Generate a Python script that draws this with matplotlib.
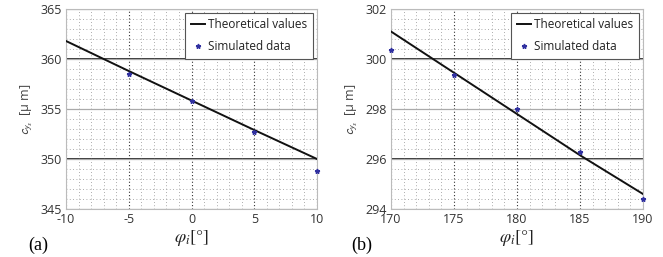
import matplotlib
matplotlib.use("Agg")
import matplotlib.pyplot as plt
from matplotlib.ticker import MultipleLocator

# Panel (a)
phi_a = [-10, -5, 0, 5, 10]
theory_a = [361.8, 358.8, 355.85, 352.9, 350.0]
sim_phi_a = [-5, 0, 5, 10]
sim_a = [358.5, 355.8, 352.7, 348.8]
xticks_a = [-10, -5, 0, 5, 10]
yticks_a = [345, 350, 355, 360, 365]
dark_a = [350, 360]

# Panel (b)
phi_b = [170, 175, 180, 185, 190]
theory_b = [301.1, 299.45, 297.8, 296.15, 294.6]
sim_phi_b = [170, 175, 180, 185, 190]
sim_b = [300.35, 299.35, 298.0, 296.3, 294.4]
xticks_b = [170, 175, 180, 185, 190]
yticks_b = [294, 296, 298, 300, 302]
dark_b = [296, 300]

plt.rcParams['font.family'] = ['Open Sans', 'DejaVu Sans']
plt.rcParams['mathtext.fontset'] = 'stix'
plt.rcParams['axes.unicode_minus'] = False

fig = plt.figure(figsize=(6.63, 2.57), dpi=100)
W, H = 663, 257
axa = fig.add_axes([66 / W, 1 - 209 / H, 251 / W, 200 / H])
axb = fig.add_axes([391 / W, 1 - 209 / H, 252 / W, 200 / H])

def style(ax, px, th, sx, sv, xt, yt, dark, xminor, yminor):
    ax.set_xlim(xt[0], xt[-1])
    ax.set_ylim(yt[0], yt[-1])
    ax.set_xticks(xt)
    ax.set_yticks(yt)
    ax.xaxis.set_minor_locator(MultipleLocator(xminor))
    ax.yaxis.set_minor_locator(MultipleLocator(yminor))
    ax.grid(which='minor', color='#777777', linestyle=(0, (1, 3)), linewidth=0.6, alpha=0.8)
    ax.grid(which='major', axis='x', color='#333333', linestyle=(0, (1, 2)), linewidth=0.8)
    ax.grid(which='major', axis='y', color='#aaaaaa', linestyle='-', linewidth=0.9)
    for d in dark:
        ax.axhline(d, color='#222222', linewidth=1.3, zorder=1.5)
    ax.tick_params(which='both', length=0, labelsize=9, colors='#333333', pad=3)
    for s in ax.spines.values():
        s.set_color('#bbbbbb')
        s.set_linewidth(0.8)
    ax.plot(px, th, color='#111111', linewidth=1.4, label='Theoretical values', zorder=3)
    ax.plot(sx, sv, linestyle='none', marker='*', markersize=3.5, color='#3030a0',
            label='Simulated data', zorder=4, clip_on=False)
    leg = ax.legend(loc='upper right', fontsize=8.5, frameon=True, fancybox=False,
                    borderaxespad=0.3, handlelength=1.2, handletextpad=0.3,
                    borderpad=0.5, labelspacing=0.7, labelcolor='#222222')
    leg.get_frame().set_edgecolor('#555555')
    leg.get_frame().set_linewidth(0.8)
    leg.get_frame().set_alpha(1)
    ax.set_xlabel(r'$\varphi_i$[°]', fontsize=13, family='STIXGeneral', labelpad=1, color='#222222')
    ax.set_ylabel(r'$\mathsf{c}_{\mathsf{y}_\mathsf{s}}$  [μ m]', fontsize=9, color='#444444', labelpad=4)

style(axa, phi_a, theory_a, sim_phi_a, sim_a, xticks_a, yticks_a, dark_a, 1, 1)
style(axb, phi_b, theory_b, sim_phi_b, sim_b, xticks_b, yticks_b, dark_b, 1, 0.4)

fig.text(28 / W, 1 - 250 / H, '(a)', fontsize=13, family='Liberation Serif')
fig.text(351 / W, 1 - 250 / H, '(b)', fontsize=13, family='Liberation Serif')

fig.savefig('out.png', dpi=100)
